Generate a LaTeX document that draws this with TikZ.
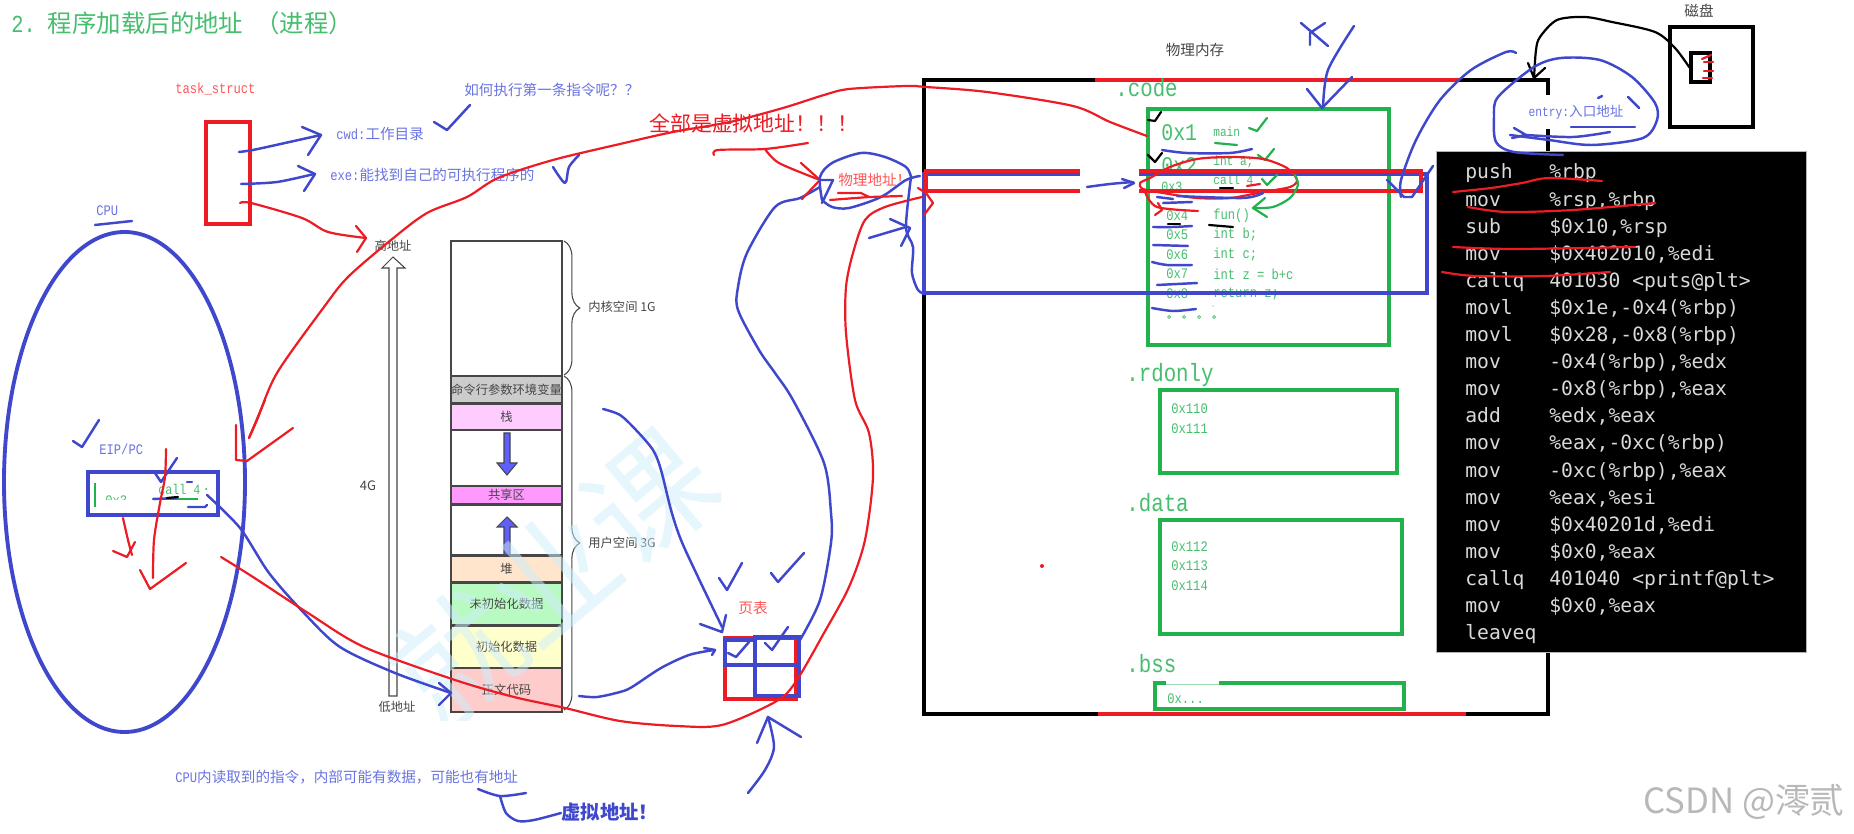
\documentclass[tikz,border=0pt]{standalone}
\usepackage{fontspec}
\usetikzlibrary{shapes.geometric,decorations.pathreplacing}
\newfontfamily\cjk{Noto Sans CJK SC}
\newfontfamily\monolat[FakeStretch=0.833]{Liberation Mono}
\newfontfamily\codefont{DejaVu Sans Mono}
\newcommand{\ml}[1]{{\monolat #1}}
\definecolor{penblue}{RGB}{63,72,204}
\definecolor{penred}{RGB}{237,28,36}
\definecolor{pengreen}{RGB}{34,177,76}
\definecolor{labelblue}{RGB}{105,115,225}
\definecolor{labelred}{RGB}{255,85,85}
\definecolor{labelgreen}{RGB}{70,190,110}
\definecolor{stackgray}{RGB}{70,70,70}
\definecolor{wmark}{RGB}{205,238,252}
\definecolor{cellgray}{RGB}{204,204,204}
\definecolor{cellstack}{RGB}{255,204,255}
\definecolor{cellshared}{RGB}{255,153,255}
\definecolor{cellheap}{RGB}{255,229,204}
\definecolor{cellbss}{RGB}{185,250,195}
\definecolor{celldata}{RGB}{255,255,204}
\definecolor{celltext}{RGB}{255,204,204}
\definecolor{arrowfill}{RGB}{95,95,255}

\begin{document}
\begin{tikzpicture}[
    x=0.02cm, y=-0.02cm,
    txt/.style={inner sep=0pt, font=\fontsize{#1}{#1}\selectfont\cjk},
    sz/.style 2 args={minimum width=#1*0.02cm, minimum height=#2*0.02cm, inner sep=0pt},
    bluepen/.style={draw=penblue, line width=1.4pt, line cap=round, line join=round},
    redpen/.style={draw=penred, line width=1.25pt, line cap=round, line join=round},
    greenpen/.style={draw=pengreen, line width=1.25pt, line cap=round, line join=round},
    blackpen/.style={draw=black, line width=1.25pt, line cap=round, line join=round},
    bluebox/.style={draw=penblue, line width=2.3pt},
    redbox/.style={draw=penred, line width=2.3pt},
    greenbox/.style={draw=pengreen, line width=2.3pt},
    blackbox/.style={draw=black, line width=2.3pt},
    stackbox/.style={draw=stackgray, line width=0.8pt},
    stacktxt/.style={txt=7, text=stackgray}
]
    \useasboundingbox[fill=white] (0,0) rectangle (1854,834);

    % Title and free labels
    \node[txt=13.9, text=labelgreen, anchor=west] (title) at (11,23) {\ml{2.\ }程序加载后的地址\ml{\ }（进程）};
    \node[txt=8.3, text=labelred, anchor=west] (tasklabel) at (175,89) {\ml{task\_struct}};
    \node[txt=8.3, text=labelblue, anchor=west] (cwd) at (336,134) {\ml{cwd:}工作目录};
    \node[txt=8.3, text=labelblue, anchor=west] (exe) at (330,175) {\ml{exe:}能找到自己的可执行程序的};
    \node[txt=8.3, text=labelblue, anchor=west] (howfirst) at (464,90) {如何执行第一条指令呢？？};
    \node[txt=8.3, text=labelblue, anchor=west] (cpulabel) at (96,211) {\ml{CPU}};
    \node[txt=8.3, text=labelblue, anchor=west] (eiplabel) at (99,449) {\ml{EIP/PC}};
    \node[txt=8.3, text=labelblue, anchor=west] (readnote) at (175,777) {\ml{CPU}内读取到的指令，内部可能有数据，可能也有地址};
    \node[text=penblue, anchor=west, inner sep=0pt, font=\fontsize{11}{11}\selectfont\cjk\bfseries] (virtnote) at (561,812) {虚拟地址！};
    \node[txt=11.9, text=penred, anchor=west] (allvirt) at (649,123) {全部是虚拟地址！！！};
    \node[txt=8.3, text=labelred, anchor=west] (physnote) at (838,180) {物理地址！};
    \node[txt=8.3, text=labelred] (pagetablelabel) at (753,608) {页表};
    \node[txt=8.3, text=stackgray] (memlabel) at (1195,50) {物理内存};
    \node[txt=8.3, text=stackgray] (disklabel) at (1699,11) {磁盘};
    \node[txt=19.8, text=black!28, anchor=west] (csdn) at (1643,802) {CSDN @澪贰};

    % task_struct and CPU
    \node[redbox, sz={44}{102}] (task) at (228,173) {};
    \node[draw=penblue, line width=2.2pt, ellipse, sz={241}{500}] (cpu) at (124.5,482) {};
    \node[bluebox, sz={130}{43}] (eip) at (153,493.5) {};
    \draw[pengreen, line width=1pt] (95,483) -- (95,507);
    \begin{scope}
        \clip (90,480) rectangle (150,500);
        \node[txt=8.3, text=labelgreen, anchor=west] (eipaddr) at (105,501) {\ml{0x3}};
    \end{scope}
    \node[txt=8, text=labelgreen, anchor=west] (eipinstr) at (158,489) {\ml{call 4}};
    \fill[pengreen] (206,489) circle (1);

    % Address space stack
    \foreach \nm/\ya/\yb/\col/\lbl in {
        kernel/241/376/white/{},
        cmdline/376/403/cellgray/命令行参数环境变量,
        stack/404/430/cellstack/栈,
        gapa/430/486/white/{},
        shared/486/504/cellshared/共享区,
        gapb/505/555/white/{},
        heap/556/582/cellheap/堆,
        bss/583/625/cellbss/未初始化数据,
        data/626/668/celldata/初始化数据,
        text/668/712/celltext/正文代码}
        \draw[stackbox, fill=\col] (451,\ya) rectangle node[stacktxt] (\nm) {\lbl} (562,\yb);
    \draw[stackgray, line width=0.6pt, fill=arrowfill] (504,433) -- (510,433) -- (510,463) -- (517,463) -- (507,475) -- (497,463) -- (504,463) -- cycle;
    \draw[stackgray, line width=0.6pt, fill=arrowfill] (504,555) -- (510,555) -- (510,527) -- (517,527) -- (507,517) -- (497,527) -- (504,527) -- cycle;
    \draw[stackgray, line width=0.6pt, fill=white] (389,696) -- (397,696) -- (397,268) -- (405,268) -- (393,257) -- (382,268) -- (389,268) -- cycle;
    \node[stacktxt] (highaddr) at (393,246) {高地址};
    \node[stacktxt] (lowaddr) at (397,707) {低地址};
    \node[txt=7.4, text=stackgray] (fourg) at (368,486) {4G};
    \draw[stackgray, line width=0.6pt, decorate, decoration={brace, amplitude=9pt}] (564,241) -- (564,375) node[midway, coordinate] (kernbrace) {};
    \draw[stackgray, line width=0.6pt, decorate, decoration={brace, amplitude=9pt}] (564,376) -- (564,710) node[midway, coordinate] (userbrace) {};
    \node[stacktxt, anchor=west] (kernlabel) at (588,307) {内核空间 1G};
    \node[stacktxt, anchor=west] (userlabel) at (588,543) {用户空间 3G};

    % Watermark
    \begin{scope}
        \clip (300,300) rectangle (800,720);
        \node[txt=71, text=wmark, opacity=0.5, rotate=40] (watermark) at (553,577) {就业课};
    \end{scope}

    % Physical memory
    \draw[blackbox] (924,80) rectangle (1548,714);
    \draw[redbox] (1095,80) -- (1459,80);
    \draw[redbox] (1098,714) -- (1466,714);
    \node[txt=14.2, text=labelgreen, anchor=west] (codelabel) at (1115,88) {\ml{.code}};
    \node[txt=14.2, text=labelgreen, anchor=west] (rolabel) at (1126,375) {\ml{.rdonly}};
    \node[txt=14.2, text=labelgreen, anchor=west] (datalabel) at (1126,503) {\ml{.data}};
    \node[txt=14.2, text=labelgreen, anchor=west] (bsslabel) at (1126,664) {\ml{.bss}};
    \node[greenbox, sz={241}{236}] (codebox) at (1268.5,227) {};
    \node[greenbox, sz={237}{83}] (robox) at (1278.5,431.5) {};
    \node[greenbox, sz={242}{114}] (databox) at (1281,577) {};
    \node[greenbox, sz={249}{26}] (bssbox) at (1279.5,696) {};
    \draw[white, line width=2.4pt] (1166,683) -- (1219,683);
    \draw[pengreen!45, line width=0.5pt] (1166,684) -- (1219,684);
    \node[txt=8.3, text=labelgreen, anchor=west] (bssaddr) at (1167,699) {\ml{0x...}};
    \foreach \nm/\lbl/\yy in {ra/0x110/409, rb/0x111/429, da/0x112/547, db/0x113/566, dc/0x114/586}
        \node[txt=8.3, text=labelgreen, anchor=west] (\nm) at (1171,\yy) {\ml{\lbl}};
    \fill[penred] (1042,566) circle (2);

    % Code segment
    \node[txt=13.6, text=labelgreen, anchor=west] (addra) at (1161,133) {\ml{0x1}};
    \begin{scope}
        \clip (1155,150) rectangle (1205,172);
        \node[txt=13.6, text=labelgreen, anchor=west] (addrb) at (1161,166) {\ml{0x2}};
    \end{scope}
    \begin{scope}
        \clip (1155,175) rectangle (1205,192);
        \node[txt=8, text=labelgreen, anchor=west] (addrc) at (1161,187) {\ml{0x3}};
    \end{scope}
    \node[txt=7.6, text=labelgreen, anchor=west] (linea) at (1213,132) {\ml{main}};
    \node[txt=7.6, text=labelgreen, anchor=west] (lineb) at (1213,162) {\ml{int a;}};
    \node[txt=7.6, text=labelgreen, anchor=west] (linec) at (1213,180) {\ml{call 4}};
    \foreach \nm/\ad/\ln/\yy in {d/0x4/fun()/216, e/0x5/{int b;}/235, f/0x6/{int c;}/255, g/0x7/{int z = b+c}/274, h/0x8/{return z;}/294} {
        \node[txt=8.3, text=labelgreen, anchor=west] (addr\nm) at (1166,\yy) {\ml{\ad}};
        \node[txt=8.3, text=labelgreen, anchor=west] (line\nm) at (1213,\yy) {\ml{\ln}};
    }
    \foreach \px in {1169,1184,1199,1214}
        \draw[labelgreen, line width=0.4pt] (\px,317) circle (1.5);
    \fill[labelgreen] (1213,306) circle (0.7);

    % Blue frame and the red band over it
    \draw[bluebox] (1080,174) -- (924,174) -- (924,293) -- (1427,293) -- (1427,174) -- (1139,174);
    \draw[redbox] (1080,171) -- (926,171) -- (926,191) -- (1080,191);
    \draw[redbox] (1139,171) -- (1421,171) -- (1421,191) -- (1139,191);

    % Disk and entry
    \node[blackbox, sz={83}{100}] (disk) at (1711.5,77) {};
    \node[draw=black, line width=1.8pt, sz={19}{29}] (diskfile) at (1700.5,67.5) {};
    \foreach \ya/\yb/\xa in {59/55/1702, 62/62/1704, 71/71/1704, 78/78/1703}
        \draw[redpen] (\xa,\ya) -- (\xa+9,\yb);
    \node[fill=white, txt=7.7, text=labelblue, sz={110}{34}] (entry) at (1576,112) {\ml{entry:}入口地址};
    \draw[blackpen] plot[smooth] coordinates {(diskfile.west) (1675,48) (1655,32) (1612,22) (1585,17) (1557,20) (1540,37) (1536,50) (1534,78)};
    \draw[blackpen] (1528,63) -- (1534,78) -- (1545,68);

    % Disassembly
    \node[fill=black, draw=black!30, line width=0.5pt, sz={370}{501}] (asm) at (1621,401.5) {};
    \foreach \i/\mn/\op in {0/push/\%rbp, 1/mov/{\%rsp,\%rbp}, 2/sub/{\$0x10,\%rsp}, 3/mov/{\$0x402010,\%edi},
        4/callq/{401030 <puts@plt>}, 5/movl/{\$0x1e,-0x4(\%rbp)}, 6/movl/{\$0x28,-0x8(\%rbp)},
        7/mov/{-0x4(\%rbp),\%edx}, 8/mov/{-0x8(\%rbp),\%eax}, 9/add/{\%edx,\%eax},
        10/mov/{\%eax,-0xc(\%rbp)}, 11/mov/{-0xc(\%rbp),\%eax}, 12/mov/{\%eax,\%esi},
        13/mov/{\$0x40201d,\%edi}, 14/mov/{\$0x0,\%eax}, 15/callq/{401040 <printf@plt>},
        16/mov/{\$0x0,\%eax}, 17/leaveq/{}} {
        \node[inner sep=0pt, anchor=base west, text=black!15, font=\fontsize{11.2}{11.2}\selectfont\codefont] (mn\i) at (1465,{179+27.1*\i}) {\mn};
        \node[inner sep=0pt, anchor=base west, text=black!15, font=\fontsize{11.2}{11.2}\selectfont\codefont] (op\i) at (1549,{179+27.1*\i}) {\op};
    }
    \draw[redpen] plot[smooth] coordinates {(1453,192) (1491,188) (1522,183) (1549,178) (1602,181)};
    \draw[redpen] plot[smooth] coordinates {(1468,207) (1506,212) (1573,210) (1655,203)};
    \draw[redpen] plot[smooth] coordinates {(1453,247) (1514,249) (1635,247)};
    \draw[redpen] plot[smooth] coordinates {(1442,272) (1475,276) (1545,276) (1610,272)};

    % Page table
    \draw[redbox] (725,638) rectangle (796,699);
    \draw[draw=penblue, line width=2pt] (725,640) rectangle (755,665);
    \draw[bluebox] (755,637) rectangle (799,696);
    \draw[draw=penblue, line width=2pt] (725,665) -- (799,665);
    \node[coordinate] (pagetable) at (760,668) {};

    % Strokes around task_struct
    \draw[bluepen] plot[smooth] coordinates {(239,152) (253,150) (285,143) (321,135)};
    \draw[bluepen] (302,127) -- (321,135) -- (308,155);
    \draw[bluepen] plot[smooth] coordinates {(241,184) (277,182) (314,174)};
    \draw[bluepen] (298,166) -- (315,174) -- (304,191);
    \draw[redpen] plot[smooth] coordinates {(240,203) (251,203) (302,218) (328,232) (366,238)};
    \draw[redpen] (356,226) -- (366,238) -- (357,252);
    \draw[bluepen] (434,122) -- (447,130) -- (470,105);
    \draw[bluepen] plot[smooth] coordinates {(553,167) (565,183) (569,167) (579,155)};
    \draw[bluepen] (95,225) -- (132,221);

    % Strokes inside the CPU
    \draw[bluepen] (73,441) -- (82,447) -- (99,420);
    \draw[pengreen, line width=1.6pt] (160,499) -- (198,499);
    \draw[bluepen] (153,499) -- (177,498);
    \draw[blackpen] (167,498) -- (178,497);
    \draw[bluepen] (188,507) -- (205,507) -- (207,505);
    \draw[bluepen] (187,482) -- (192,482);
    \draw[bluepen] (155,473) -- (161,482) -- (177,458);
    \draw[redpen] plot[smooth] coordinates {(166,449) (165,477) (160,503) (154,540) (153,578)};
    \draw[redpen] (140,570) -- (150,589) -- (186,563);
    \draw[redpen] plot[smooth] coordinates {(123,518) (128,540) (132,555)};
    \draw[redpen] (113,551) -- (127,557) -- (135,542);

    % Long virtual address strokes
    \draw[redpen] plot[smooth] coordinates {(249,438) (257,420) (277,373) (324,307) (348,277) (391,240) (427,213) (467,197) (498,178) (553,160) (620,144) (673,132) (730,122) (783,108) (824,95) (849,89) (906,86) (926,87) (987,92) (1073,106) (1110,122) (1147,136)};
    \draw[redpen] (265,400) -- (249,438);
    \draw[redpen] (236,425) -- (236,460) -- (247,461) -- (293,428);
    \draw[bluepen] plot[smooth] coordinates {(207,495) (240,528) (269,573) (304,613) (340,647) (395,673) (451,693)};
    \draw[bluepen] (439,683) -- (451,693) -- (439,705);
    \draw[redpen] plot[smooth] coordinates {(221,557) (253,577) (308,613) (364,647) (455,680) (514,697) (565,708) (620,721) (677,726) (722,725) (775,702) (795,683) (824,633) (849,587) (865,540) (873,477) (869,433) (855,400) (846,333) (846,287) (853,253) (865,220) (885,207) (922,197)};
    \draw[redpen] (918,188) -- (926,193) -- (933,203) -- (924,215);

    % Strokes to the page table
    \draw[bluepen] plot[smooth] coordinates {(603,409) (620,415) (636,430) (653,450) (661,470) (671,510) (681,540) (698,577) (722,627)};
    \draw[bluepen] (700,624) -- (722,632) -- (726,615);
    \draw[bluepen] plot[smooth] coordinates {(579,696) (597,697) (620,692) (632,687) (661,668) (689,655) (714,650)};
    \draw[bluepen] (704,648) -- (715,650) -- (712,655);
    \draw[bluepen] (719,578) -- (727,590) -- (742,563);
    \draw[bluepen] (771,573) -- (778,582) -- (804,553);
    \draw[bluepen] (728,653) -- (736,657) -- (749,642);
    \draw[bluepen] (765,643) -- (772,650) -- (788,627);
    \draw[bluepen] plot[smooth] coordinates {(748,793) (765,770) (774,747) (768,717)};
    \draw[bluepen] (757,743) -- (768,717) -- (801,737);
    \draw[bluepen] plot[smooth] coordinates {(820,187) (800,198) (775,207) (747,253) (738,287) (738,310) (759,350) (775,373) (793,400) (824,463) (831,513) (831,543) (820,600) (800,640)};
    \draw[bluepen] (820,180) -- (833,180) -- (822,203);
    \draw[bluepen] plot[smooth] coordinates {(478,789) (500,796) (526,793)};
    \draw[bluepen] plot[smooth] coordinates {(500,796) (506,813) (518,821) (534,820) (561,813)};

    % Strokes around the physical address label
    \draw[redpen] plot[smooth] coordinates {(714,155) (718,150) (765,149) (808,143)};
    \draw[redpen] plot[smooth] coordinates {(765,149) (779,163) (820,180)};
    \draw[redpen] (801,163) -- (820,180) -- (802,199);
    \draw[bluepen] plot[smooth] coordinates {(822,200) (820,177) (832,163) (861,153) (885,157) (906,167) (911,177)};
    \draw[bluepen] plot[smooth] coordinates {(920,176) (906,180) (881,197) (849,208) (832,207) (822,200)};
    \draw[redpen] (838,193) -- (861,193) -- (869,197);
    \draw[redpen] (830,200) -- (869,197) -- (902,196);
    \draw[bluepen] plot[smooth] coordinates {(911,177) (906,227) (913,247) (912,273) (918,290) (925,294)};
    \draw[bluepen] (869,238) -- (906,227);
    \draw[bluepen] (890,219) -- (910,228) -- (901,246);
    \draw[bluepen] plot[smooth] coordinates {(1087,187) (1110,184) (1133,182)};
    \draw[bluepen] (1122,179) -- (1134,183) -- (1124,188);

    % Marks on the code segment
    \draw[blackpen] (1148,120) -- (1155,121) -- (1161,112);
    \draw[blackpen] (1148,155) -- (1155,162) -- (1162,153);
    \draw[greenpen] (1249,128) -- (1257,131) -- (1267,118);
    \draw[greenpen] (1215,143) -- (1237,145);
    \draw[bluepen] plot[smooth] coordinates {(1162,150) (1187,153) (1230,153) (1252,149)};
    \draw[greenpen] (1258,155) -- (1265,160) -- (1274,149);
    \draw[greenpen] (1262,179) -- (1267,185) -- (1277,175);
    \draw[redpen] plot[smooth cycle] coordinates {(1140,183) (1150,178) (1170,167) (1197,159) (1230,157) (1263,159) (1287,168) (1297,180) (1290,187) (1263,192) (1230,198) (1197,198) (1163,193) (1143,189)};
    \draw[redpen] plot[smooth] coordinates {(1145,192) (1157,207) (1198,211)};
    \draw[redpen] (1158,203) -- (1162,210) -- (1155,215);
    \draw[bluepen] (1157,197) -- (1173,199);
    \draw[bluepen] (1163,203) -- (1192,202);
    \draw[bluepen] plot[smooth] coordinates {(1177,196) (1243,198) (1263,193)};
    \draw[blackpen] (1220,188) -- (1233,188);
    \draw[redpen] (1247,186) -- (1260,184);
    \draw[greenpen] plot[smooth] coordinates {(1295,175) (1298,185) (1290,198) (1273,207) (1253,208)};
    \draw[greenpen] (1265,198) -- (1253,208) -- (1267,217);
    \draw[bluepen] plot[smooth] coordinates {(1153,227) (1173,227) (1192,226)};
    \draw[blackpen] (1168,224) -- (1180,224);
    \draw[blackpen] (1209,225) -- (1233,227);
    \draw[bluepen] (1153,245) -- (1188,246);
    \draw[bluepen] plot[smooth] coordinates {(1152,262) (1167,265) (1192,265)};
    \draw[bluepen] (1157,285) -- (1197,283);
    \draw[bluepen] plot[smooth] coordinates {(1152,308) (1173,311) (1196,309)};

    % Strokes at the top right
    \draw[bluepen] (1301,23) -- (1328,46);
    \draw[bluepen] (1325,23) -- (1310,33) -- (1310,45);
    \draw[bluepen] plot[smooth] coordinates {(1354,26) (1328,70) (1323,108)};
    \draw[bluepen] (1307,89) -- (1322,108) -- (1352,77);
    \draw[bluepen] plot[smooth] coordinates {(1516,53) (1506,52) (1471,70) (1440,100) (1416,140) (1401,180) (1401,197)};
    \draw[bluepen] (1387,180) -- (1404,197) -- (1412,197) -- (1433,166);
    \draw[bluepen] plot[smooth] coordinates {(1563,155) (1514,152) (1496,142) (1494,117) (1498,97) (1534,67) (1561,58) (1600,60) (1632,77) (1655,103) (1657,120) (1643,138) (1592,145) (1549,140) (1510,135)};
    \draw[bluepen] (1571,127) -- (1635,127);
    \draw[bluepen] (1514,128) -- (1526,135) -- (1512,138);
    \draw[bluepen] plot[smooth] coordinates {(1526,135) (1573,137) (1610,132)};
    \draw[bluepen] (1598,98) -- (1602,96);
    \draw[bluepen] (1628,97) -- (1639,108);
\end{tikzpicture}
\end{document}
